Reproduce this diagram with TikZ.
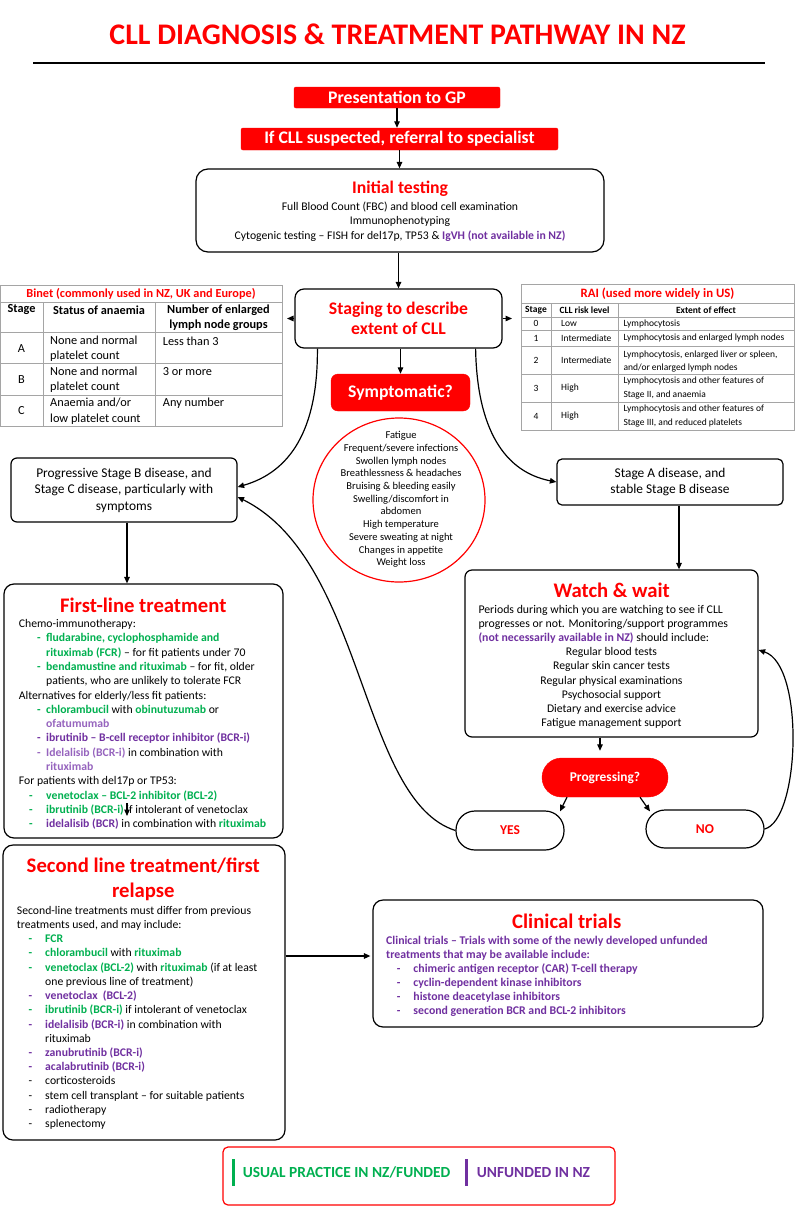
\documentclass[tikz,border=0pt]{standalone}
\usepackage{fontspec}
\setmainfont{Carlito}
\usetikzlibrary{arrows.meta,shapes.geometric}
\definecolor{cllred}{RGB}{255,0,0}
\definecolor{cllgreen}{RGB}{0,176,80}
\definecolor{cllpurple}{RGB}{112,48,160}
\definecolor{clllpurple}{RGB}{150,100,190}
\definecolor{tblgray}{RGB}{165,165,165}
\newcommand{\GRN}[1]{\textcolor{cllgreen}{\textbf{#1}}}
\newcommand{\PUR}[1]{\textcolor{cllpurple}{\textbf{#1}}}
\newcommand{\LPU}[1]{\textcolor{clllpurple}{\textbf{#1}}}
\newcommand{\fsz}[2]{\fontsize{#1}{#2}\selectfont}
\newcommand{\dsh}[3]{\hspace*{#1}\makebox[#2][l]{#3}}
\begin{document}
\begin{tikzpicture}[x=1pt,y=-1pt,
  box/.style={draw=black,line width=1.2pt,fill=white,inner sep=0pt},
  redbox/.style={fill=cllred,draw=cllred,inner sep=0pt,text=white,font=\fsz{17.7}{20}\bfseries},
  arr/.style={line width=1.2pt,-{Triangle[length=6.5pt,width=5.5pt]}},
  body/.style={inner sep=0pt,font=\fsz{11.7}{14.25}},
  head/.style={inner sep=0pt,text=cllred,font=\fsz{20.7}{25}\bfseries},
  tline/.style={draw=tblgray,line width=0.8pt},
  bt/.style={inner sep=0pt,font=\fsz{12.3}{15.3}},
  rt/.style={inner sep=0pt,font=\fsz{9.5}{14}},
  pill/.style={box,rounded corners=19pt,text=cllred,font=\fsz{13.5}{15}\bfseries}
]
\useasboundingbox (0,0) rectangle (798,1210);
\fill[white] (0,0) rectangle (798,1210);

% title
\node[inner sep=0pt,text=cllred,font=\fsz{29.9}{32}\bfseries] (title) at (397.5,34) {CLL DIAGNOSIS \& TREATMENT PATHWAY IN NZ};
\draw[line width=1.3pt] (33,63) -- (765,63);

% top boxes
\node[redbox,rounded corners=2pt,minimum width=206,minimum height=21] (gp) at (397,97.5) {Presentation to GP};
\node[redbox,rounded corners=2pt,minimum width=317,minimum height=22] (ref) at (399.5,139) {If CLL suspected, referral to specialist};

\node[box,rounded corners=12pt,minimum width=408,minimum height=83] (init) at (400,210.5) {};
\node[inner sep=0pt,text=cllred,font=\fsz{17.7}{20}\bfseries] (inittitle) at (400,189) {Initial testing};
\node[body,align=center,anchor=north,font=\fsz{11.7}{14.5}] (inittxt) at (400,201.7) {Full Blood Count (FBC) and blood cell examination\\Immunophenotyping\\Cytogenic testing – FISH for del17p, TP53 \& \PUR{IgVH (not available in NZ)}};

\node[box,rounded corners=9pt,minimum width=207,minimum height=59,align=center,text=cllred,font=\fsz{17.7}{20}\bfseries] (staging) at (398.5,318.5) {Staging to describe\\extent of CLL};

% Binet table
\draw[tline] (0.5,285) rectangle (282,426);
\foreach \yy in {302,332,363,395} {\draw[tline] (0.5,\yy) -- (282,\yy);}
\draw[tline] (43,302) -- (43,426);
\draw[tline] (155,302) -- (155,426);
\node[bt,text=cllred,font=\fsz{12.3}{15.3}\bfseries] (bT) at (141,293.5) {Binet (commonly used in NZ, UK and Europe)};
\node[bt,font=\fsz{12.3}{15.3}\bfseries] (bH1) at (21.5,310) {Stage};
\node[bt,font=\fsz{12.3}{15.3}\bfseries] (bH2) at (99,310) {Status of anaemia};
\node[bt,font=\fsz{12.3}{15.3}\bfseries,align=center,anchor=north] (bH3) at (218.5,304.7) {Number of enlarged\\lymph node groups};
\node[bt] (bA) at (21.5,348.5) {A};
\node[bt] (bB) at (21.5,379.5) {B};
\node[bt] (bC) at (21.5,410.5) {C};
\node[bt,align=left,anchor=north west] (bA2) at (50,335.7) {None and normal\\platelet count};
\node[bt,align=left,anchor=north west] (bB2) at (50,366.4) {None and normal\\platelet count};
\node[bt,align=left,anchor=north west] (bC2) at (50,398) {Anaemia and/or\\low platelet count};
\node[bt,anchor=west] (bA3) at (162.7,341) {Less than 3};
\node[bt,anchor=west] (bB3) at (162.7,371.7) {3 or more};
\node[bt,anchor=west] (bC3) at (162.7,403.3) {Any number};

% RAI table
\draw[tline] (521,284) rectangle (794,430);
\foreach \yy in {303,317,330,346,374,402} {\draw[tline] (521,\yy) -- (794,\yy);}
\draw[tline] (551,303) -- (551,430);
\draw[tline] (618,303) -- (618,430);
\node[rt,text=cllred,font=\fsz{12.8}{14}\bfseries] (rT) at (657.5,293.5) {RAI (used more widely in US)};
\node[rt,font=\fsz{9.5}{14}\bfseries] (rH1) at (536,310) {Stage};
\node[rt,font=\fsz{9.5}{14}\bfseries] (rH2) at (584.5,310) {CLL risk level};
\node[rt,font=\fsz{9.5}{14}\bfseries] (rH3) at (706,310) {Extent of effect};
\node[rt] (r0a) at (536,323.5) {0};
\node[rt,anchor=west] (r0b) at (561,323.5) {Low};
\node[rt,anchor=west] (r0c) at (623.3,323.5) {Lymphocytosis};
\node[rt] (r1a) at (536,338) {1};
\node[rt,anchor=west] (r1b) at (561,338) {Intermediate};
\node[rt,anchor=west] (r1c) at (623.3,338) {Lymphocytosis and enlarged lymph nodes};
\node[rt] (r2a) at (536,360) {2};
\node[rt,anchor=west] (r2b) at (561,360) {Intermediate};
\node[rt,align=left,anchor=north west,font=\fsz{9.5}{13}] (r2c) at (623.3,351) {Lymphocytosis, enlarged liver or spleen,\\and/or enlarged lymph nodes};
\node[rt] (r3a) at (536,388) {3};
\node[rt,anchor=west] (r3b) at (561,388) {High};
\node[rt,align=left,anchor=north west] (r3c) at (623.3,377) {Lymphocytosis and other features of\\Stage II, and anaemia};
\node[rt] (r4a) at (536,416) {4};
\node[rt,anchor=west] (r4b) at (561,416) {High};
\node[rt,align=left,anchor=north west] (r4c) at (623.3,405) {Lymphocytosis and other features of\\Stage III, and reduced platelets};

% symptomatic
\node[redbox,rounded corners=7pt,minimum width=139,minimum height=37] (sympt) at (400.5,392.5) {Symptomatic?};
\node[ellipse,draw=cllred,line width=1.2pt,minimum width=172,minimum height=164,inner sep=0pt] (ell) at (399,500) {};
\node[inner sep=0pt,align=center,font=\fsz{10.5}{12.7}] (symtxt) at (401,499.5) {Fatigue\\Frequent/severe infections\\Swollen lymph nodes\\Breathlessness \& headaches\\Bruising \& bleeding easily\\Swelling/discomfort in\\abdomen\\High temperature\\Severe sweating at night\\Changes in appetite\\Weight loss};

% disease boxes
\node[box,rounded corners=6pt,minimum width=226,minimum height=64,align=center,font=\fsz{13.4}{16.5}] (prog) at (124,490) {Progressive Stage B disease, and\\Stage C disease, particularly with\\symptoms};
\node[box,rounded corners=5pt,minimum width=226,minimum height=46,align=center,font=\fsz{13.4}{16.5}] (stagea) at (670,482) {Stage A disease, and\\stable Stage B disease};

% watch and wait
\node[box,rounded corners=7pt,minimum width=293,minimum height=167] (watch) at (611.5,653.5) {};
\node[head] (watchtitle) at (611.7,590) {Watch \& wait};
\node[body,align=left,anchor=north west,font=\fsz{11.8}{14.16}] (watchtxt) at (478.3,605) {Periods during which you are watching to see if CLL\\progresses or not. Monitoring/support programmes\\\PUR{(not necessarily available in NZ)} should include:};
\node[body,align=center,anchor=north,font=\fsz{11.7}{14.2}] (watchlist) at (611.5,647.3) {Regular blood tests\\Regular skin cancer tests\\Regular physical examinations\\Psychosocial support\\Dietary and exercise advice\\Fatigue management support};

\node[redbox,rounded corners=19.5pt,minimum width=126,minimum height=39,font=\fsz{13.4}{15}\bfseries] (progq) at (605,777.5) {Progressing?};
\node[pill,minimum width=108,minimum height=39] (yes) at (510,830.5) {YES};
\node[pill,minimum width=118,minimum height=38] (no) at (705,829) {NO};

% first-line
\node[box,rounded corners=10pt,minimum width=279,minimum height=254] (first) at (143.5,711) {};
\node[head] (firsttitle) at (143.3,605) {First-line treatment};
\node[body,align=left,anchor=north west,font=\fsz{11.7}{14.29}] (firsttxt) at (18.7,619.3) {Chemo-immunotherapy:\\
\dsh{18.3pt}{9pt}{\GRN{-}}\GRN{fludarabine, cyclophosphamide and}\\
\hspace*{27.3pt}\GRN{rituximab (FCR)} – for fit patients under 70\\
\dsh{18.3pt}{9pt}{\GRN{-}}\GRN{bendamustine and rituximab} – for fit, older\\
\hspace*{27.3pt}patients, who are unlikely to tolerate FCR\\
Alternatives for elderly/less fit patients:\\
\dsh{18.3pt}{9pt}{\GRN{-}}\GRN{chlorambucil} with \GRN{obinutuzumab} or\\
\hspace*{27.3pt}\LPU{ofatumumab}\\
\dsh{18.3pt}{9pt}{\PUR{-}}\PUR{ibrutinib – B-cell receptor inhibitor (BCR-i)}\\
\dsh{18.3pt}{9pt}{\LPU{-}}\LPU{Idelalisib (BCR-i)} in combination with\\
\hspace*{27.3pt}\LPU{rituximab}\\
For patients with del17p or TP53:\\
\dsh{10.3pt}{17pt}{\GRN{-}}\GRN{venetoclax – BCL-2 inhibitor (BCL-2)}\\
\dsh{10.3pt}{17pt}{\GRN{-}}\GRN{ibrutinib (BCR-i)} if intolerant of venetoclax\\
\dsh{10.3pt}{17pt}{\GRN{-}}\PUR{idelalisib (BCR)} in combination with \GRN{rituximab}};

% second line
\node[box,rounded corners=10pt,minimum width=282,minimum height=295] (second) at (144,992.5) {};
\node[head,align=center] (secondtitle) at (143.3,879.2) {Second line treatment/first\\relapse};
\node[body,align=left,anchor=north west,font=\fsz{11.7}{14.22}] (secondtxt) at (16.7,906) {Second-line treatments must differ from previous\\
treatments used, and may include:\\
\dsh{11.6pt}{16.7pt}{\GRN{-}}\GRN{FCR}\\
\dsh{11.6pt}{16.7pt}{\GRN{-}}\GRN{chlorambucil} with \GRN{rituximab}\\
\dsh{11.6pt}{16.7pt}{\GRN{-}}\GRN{venetoclax (BCL-2)} with \GRN{rituximab} (if at least\\
\hspace*{28.3pt}one previous line of treatment)\\
\dsh{11.6pt}{16.7pt}{\PUR{-}}\PUR{venetoclax\ \ (BCL-2)}\\
\dsh{11.6pt}{16.7pt}{\GRN{-}}\GRN{ibrutinib (BCR-i)} if intolerant of venetoclax\\
\dsh{11.6pt}{16.7pt}{\PUR{-}}\PUR{idelalisib (BCR-i)} in combination with\\
\hspace*{28.3pt}rituximab\\
\dsh{11.6pt}{16.7pt}{\PUR{-}}\PUR{zanubrutinib (BCR-i)}\\
\dsh{11.6pt}{16.7pt}{\PUR{-}}\PUR{acalabrutinib (BCR-i)}\\
\dsh{11.6pt}{16.7pt}{-}corticosteroids\\
\dsh{11.6pt}{16.7pt}{-}stem cell transplant – for suitable patients\\
\dsh{11.6pt}{16.7pt}{-}radiotherapy\\
\dsh{11.6pt}{16.7pt}{-}splenectomy};

% clinical trials
\node[box,rounded corners=10pt,minimum width=390,minimum height=127] (clin) at (568,963.5) {};
\node[head] (clintitle) at (566.7,921.7) {Clinical trials};
\node[inner sep=0pt,align=left,anchor=north west,text=cllpurple,font=\fsz{11.8}{14.1}\bfseries] (clintxt) at (386,935.6) {Clinical trials – Trials with some of the newly developed unfunded\\
treatments that may be available include:\\
\dsh{10.7pt}{16.6pt}{-}chimeric antigen receptor (CAR) T-cell therapy\\
\dsh{10.7pt}{16.6pt}{-}cyclin-dependent kinase inhibitors\\
\dsh{10.7pt}{16.6pt}{-}histone deacetylase inhibitors\\
\dsh{10.7pt}{16.6pt}{-}second generation BCR and BCL-2 inhibitors};

% legend
\node[draw=cllred,line width=1.2pt,rounded corners=5pt,minimum width=392,minimum height=58,inner sep=0pt] (legend) at (419,1176) {};
\draw[cllgreen,line width=3pt] (233.3,1159) -- (233.3,1186);
\draw[cllpurple,line width=3pt] (466.7,1159) -- (466.7,1186);
\node[inner sep=0pt,anchor=west,text=cllgreen,font=\fsz{15.4}{17}\bfseries] (leg1) at (242.7,1172.7) {USUAL PRACTICE IN NZ/FUNDED};
\node[inner sep=0pt,anchor=west,text=cllpurple,font=\fsz{15.4}{17}\bfseries] (leg2) at (476.7,1172.7) {UNFUNDED IN NZ};

% connectors
\coordinate (binetE) at (287,318.5);
\coordinate (raiW) at (512,318.5);
\coordinate (axP) at (127,0);
\coordinate (axA) at (679,0);
\coordinate (axW) at (600,0);
\coordinate (sa1) at (127,803);
\coordinate (sa2) at (127,816);
\coordinate (arrY) at ([yshift=7.5pt]clin.west);

\draw[arr] (gp.south) -- (gp.south |- ref.north);
\draw[arr] (ref.south) -- (ref.south |- init.north);
\draw[arr] (staging.north |- init.south) -- (staging.north);
\draw[arr] (staging.west) -- (binetE);
\draw[arr] (staging.east) -- (raiW);
\draw[arr] (sympt.north |- staging.south) -- (sympt.north);
\draw[arr] ([xshift=23pt]staging.south west) .. controls (318,430) and (290,472) .. ([yshift=3pt]prog.east);
\draw[arr] ([xshift=-27pt]staging.south east) .. controls (477,430) and (505,472) .. (stagea.west);
\draw[arr] (prog.south -| axP) -- (first.north -| axP);
\draw[arr] (stagea.south -| axA) -- (watch.north -| axA);
\draw[arr,shorten >=7pt] (watch.south -| axW) -- (progq.north -| axW);
\draw[arr] ([xshift=-38pt]progq.south) -- ([xshift=50pt,yshift=-1pt]yes.north);
\draw[arr] ([xshift=35pt]progq.south) -- ([xshift=-55pt,yshift=-2pt]no.north);
\draw[arr] (no.east) .. controls (800,820) and (805,665) .. ([yshift=3.5pt]watch.east);
\draw[arr] (yes.west) .. controls (360,800) and (365,560) .. ([yshift=-7pt]prog.east);
\draw[arr] (sa1) -- (sa2);
\draw[arr,shorten >=2pt] (second.east |- arrY) -- (arrY);
\end{tikzpicture}
\end{document}
